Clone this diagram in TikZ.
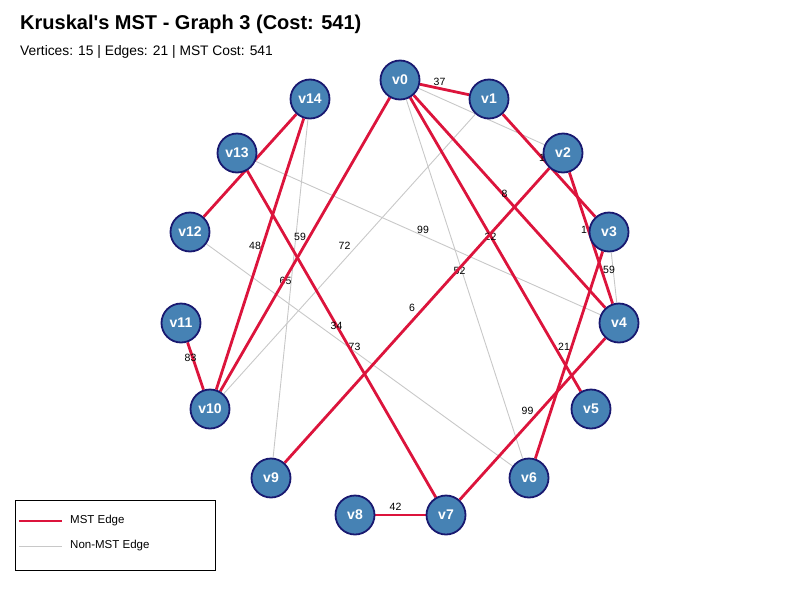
\documentclass[tikz,border=0pt]{standalone}
\usepackage{fontspec}
\setmainfont{Liberation Sans}
\usetikzlibrary{backgrounds}

\definecolor{mstred}{RGB}{220,20,60}
\definecolor{vfill}{RGB}{70,130,180}
\definecolor{vborder}{RGB}{25,25,112}
\definecolor{plainedge}{RGB}{200,200,200}

\begin{document}
\begin{tikzpicture}[x=1pt,y=-1pt,
    vertex/.style={circle,fill=vfill,draw=vborder,line width=1.8pt,
      minimum size=39pt,inner sep=0pt,text=white,
      font=\bfseries\fontsize{14}{14}\selectfont},
    mst/.style={draw=mstred,line width=2.8pt},
    nonmst/.style={draw=plainedge,line width=0.9pt},
    wt/.style={font=\fontsize{10.5}{10.5}\selectfont,inner sep=0pt,
      xshift=-5pt,yshift=8pt}]
        \useasboundingbox (0,0) rectangle (800,600);
        % title
        \node[anchor=base west,inner sep=0pt,font=\bfseries\fontsize{20}{20}\selectfont] (title) at (20,29)
          {Kruskal\textquotesingle s MST - Graph 3 (Cost: 541)};
        \node[anchor=base west,inner sep=0pt,font=\fontsize{13.8}{13.8}\selectfont] (info) at (20,55)
          {Vertices: 15 | Edges: 21 | MST Cost: 541};
        % vertices on the circle
        \node[vertex] (v0) at (400,80) {v0};
        \node[vertex] (v1) at (489,99) {v1};
        \node[vertex] (v2) at (563,153) {v2};
        \node[vertex] (v3) at (609,232) {v3};
        \node[vertex] (v4) at (619,323) {v4};
        \node[vertex] (v5) at (591,409) {v5};
        \node[vertex] (v6) at (529,478) {v6};
        \node[vertex] (v7) at (446,515) {v7};
        \node[vertex] (v8) at (355,515) {v8};
        \node[vertex] (v9) at (271,478) {v9};
        \node[vertex] (v10) at (210,409) {v10};
        \node[vertex] (v11) at (181,323) {v11};
        \node[vertex] (v12) at (190,232) {v12};
        \node[vertex] (v13) at (237,153) {v13};
        \node[vertex] (v14) at (310,99) {v14};
        \begin{pgfonlayer}{background}
          % edges left out of the tree
          \draw[nonmst] (v0) -- (v2);
          \draw[nonmst] (v0) -- node[wt] {52} (v6);
          \draw[nonmst] (v1) -- node[wt] {72} (v10);
          \draw[nonmst] (v3) -- node[wt] {59} (v4);
          \draw[nonmst] (v13) -- node[wt] {99} (v4);
          \draw[nonmst] (v12) -- node[wt] {73} (v6);
          \draw[nonmst] (v14) -- node[wt] {65} (v9);
          % tree edges
          \draw[mst] (v0) -- node[wt] {37} (v1);
          \draw[mst] (v0) -- node[wt] {8} (v4);
          \draw[mst] (v0) -- node[wt] {22} (v5);
          \draw[mst] (v0) -- node[wt] {59} (v10);
          \draw[mst] (v1) -- node[wt,xshift=-2pt] {1} (v3);
          \draw[mst] (v2) -- node[wt,xshift=-2pt] {1} (v4);
          \draw[mst] (v2) -- node[wt] {6} (v9);
          \draw[mst] (v3) -- node[wt] {21} (v6);
          \draw[mst] (v4) -- node[wt] {99} (v7);
          \draw[mst] (v8) -- node[wt] {42} (v7);
          \draw[mst] (v13) -- node[wt] {34} (v7);
          \draw[mst] (v11) -- node[wt] {83} (v10);
          \draw[mst] (v14) -- node[wt] {48} (v10);
          \draw[mst] (v14) -- (v12);
        \end{pgfonlayer}
        % legend
        \draw[black,line width=0.9pt] (15,500) rectangle (215,570);
        \node[anchor=west,inner sep=0pt,font=\fontsize{11.5}{11.5}\selectfont] (lgmst) at (70,521) {MST Edge};
        \node[anchor=west,inner sep=0pt,font=\fontsize{11.5}{11.5}\selectfont] (lgother) at (70,546) {Non-MST Edge};
        \draw[mst] ([xshift=-51pt]lgmst.west) -- ([xshift=-8pt]lgmst.west);
        \draw[nonmst] ([xshift=-51pt]lgother.west) -- ([xshift=-8pt]lgother.west);
\end{tikzpicture}
\end{document}
